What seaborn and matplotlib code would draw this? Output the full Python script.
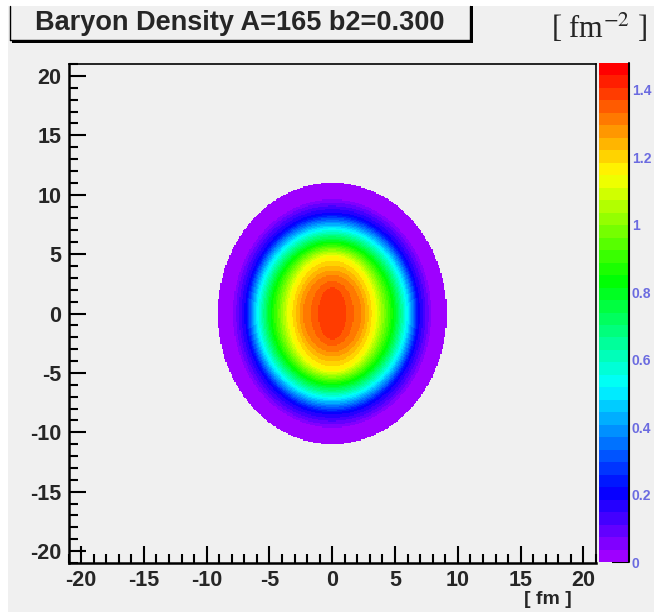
import numpy as np
import pandas as pd
import matplotlib
matplotlib.use("Agg")
import matplotlib.pyplot as plt
import seaborn as sns
from matplotlib.colors import ListedColormap, hsv_to_rgb
from matplotlib.patches import Rectangle
from matplotlib.lines import Line2D
from matplotlib.ticker import FixedLocator

# density contours: level and half widths along x and y [fm]
levels = [1.40, 1.369, 1.29, 1.15, 0.80, 0.48, 0.20, 0.037, 0.005]
half_x = [0.0, 1.1, 2.4, 3.4, 5.0, 6.1, 6.9, 7.9, 9.1]
half_y = [0.0, 2.2, 3.3, 4.8, 6.1, 7.3, 8.4, 9.6, 11.0]

axis_ticks = [-20, -15, -10, -5, 0, 5, 10, 15, 20]
cbar_ticks = [0, 0.2, 0.4, 0.6, 0.8, 1.0, 1.2, 1.4]
cbar_labels = ["0", "0.2", "0.4", "0.6", "0.8", "1", "1.2", "1.4"]
title = "Baryon Density A=165 b2=0.300"

z_max = 1.48
n_colors = 40
lim = 21
step = 0.1

W, H = 658, 614

# grid of bin centres, rows from top to bottom
xc = np.arange(-lim + step / 2, lim, step)
yc = xc[::-1]
X, Y = np.meshgrid(xc, yc)
idx = np.arange(len(levels), dtype=float)


def ellipse_f(s):
    ax_ = np.maximum(np.interp(s, idx, half_x), 1e-3)
    ay_ = np.maximum(np.interp(s, idx, half_y), 1e-3)
    return (X / ax_) ** 2 + (Y / ay_) ** 2


# find which contour ellipse each bin sits on
lo = np.zeros_like(X)
hi = np.full_like(X, idx[-1])
for _ in range(40):
    mid = 0.5 * (lo + hi)
    inside = ellipse_f(mid) <= 1
    hi = np.where(inside, mid, hi)
    lo = np.where(inside, lo, mid)
z = np.interp(hi, idx, levels)
z[ellipse_f(np.full_like(X, idx[-1])) > 1] = np.nan
df = pd.DataFrame(z, index=np.round(yc, 2), columns=np.round(xc, 2))

# ROOT-like rainbow palette, purple -> red
hues = np.linspace(0.77, 0.0, n_colors)
cmap = ListedColormap([hsv_to_rgb((h, 1.0, 1.0)) for h in hues])

sns.set_style("ticks")
plt.rcParams["font.family"] = ["Liberation Sans", "DejaVu Sans"]
plt.rcParams["mathtext.fontset"] = "stix"

fig = plt.figure(figsize=(W / 100, H / 100), dpi=100, facecolor="white")


def fx(px):
    return px / W


def fy(py):
    return 1 - py / H


bg = "#f0f0f0"
fig.patches.append(Rectangle((fx(8), fy(612)), fx(654) - fx(8), fy(6) - fy(612),
                             transform=fig.transFigure, facecolor=bg, edgecolor="none", zorder=-10))

ax = fig.add_axes([fx(68.5), fy(563), fx(596) - fx(68.5), fy(64) - fy(563)])
cax = fig.add_axes([fx(599), fy(562), fx(629) - fx(599), fy(63) - fy(562)])

sns.heatmap(df, ax=ax, cmap=cmap, vmin=0, vmax=z_max, cbar_ax=cax,
            xticklabels=False, yticklabels=False, rasterized=True)
ax.set_facecolor(bg)
ax.set_xlabel("")
ax.set_ylabel("")
for sp in ax.spines.values():
    sp.set_visible(True)
    sp.set_color("black")
    sp.set_linewidth(1.2)
ax.spines["left"].set_linewidth(1.8)
ax.spines["bottom"].set_linewidth(1.8)


def to_col(v):
    return (v + lim) / step


def to_row(v):
    return (lim - v) / step


ax.set_xticks([to_col(t) for t in axis_ticks])
ax.set_xticklabels([str(t) for t in axis_ticks])
ax.set_yticks([to_row(t) for t in axis_ticks])
ax.set_yticklabels([str(t) for t in axis_ticks])
minor = [m for m in range(-21, 22) if m % 5 != 0]
ax.xaxis.set_minor_locator(FixedLocator([to_col(m) for m in minor]))
ax.yaxis.set_minor_locator(FixedLocator([to_row(m) for m in minor]))
ax.tick_params(which="major", direction="in", length=12, width=1.5, color="black",
               labelsize=15.5, pad=5, bottom=True, left=True)
ax.tick_params(which="minor", direction="in", length=6.5, width=1.5, color="black",
               bottom=True, left=True)
for t in ax.get_xticklabels() + ax.get_yticklabels():
    t.set_fontweight("bold")
plt.setp(ax.get_yticklabels(), rotation=0)

cbar = ax.collections[0].colorbar
cbar.outline.set_visible(False)
cbar.set_ticks(cbar_ticks)
cbar.set_ticklabels(cbar_labels)
cax.tick_params(axis="y", which="major", direction="in", length=12, width=1.5, color="black",
                labelsize=10, labelcolor="#6b6be0", pad=2, right=True)
cax.tick_params(axis="y", which="minor", length=0)
for t in cax.get_yticklabels():
    t.set_fontweight("bold")
cax.add_line(Line2D([1, 1], [0, 1], transform=cax.transAxes, color="black", lw=1.5, clip_on=False))

# title pave with shadow
fig.patches.append(Rectangle((fx(12), fy(42.5)), fx(472.5) - fx(12), fy(6) - fy(42.5),
                             transform=fig.transFigure, facecolor="black", edgecolor="none", zorder=1))
fig.patches.append(Rectangle((fx(10), fy(40)), fx(470) - fx(10), fy(6) - fy(40),
                             transform=fig.transFigure, facecolor=bg, edgecolor="none", zorder=2))
for xs, ys in [([10, 10], [6, 40]), ([10, 470], [40, 40]), ([470, 470], [6, 40])]:
    fig.add_artist(Line2D([fx(v) for v in xs], [fy(v) for v in ys], transform=fig.transFigure,
                          color="black", lw=1, zorder=3))
fig.text(fx(240), fy(23), title, ha="center", va="center", fontsize=19.5,
         fontweight="bold", zorder=4)

fig.text(fx(599), fy(28), r"[ fm$^{-2}$ ]", ha="center", va="center", fontsize=22,
         family=["Liberation Serif", "DejaVu Serif"])
fig.text(fx(572), fy(600), "[ fm ]", ha="right", va="center", fontsize=14, fontweight="bold")

fig.savefig("out.png", dpi=100, facecolor="white")
